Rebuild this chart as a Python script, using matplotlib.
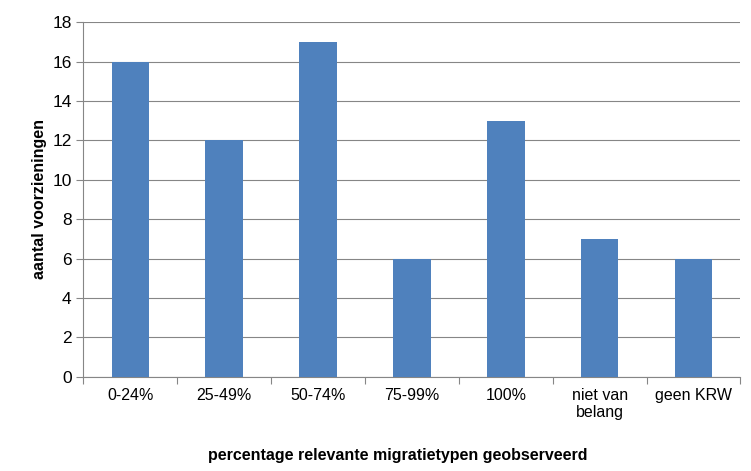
import matplotlib.pyplot as plt

categories = ['0-24%', '25-49%', '50-74%', '75-99%', '100%', 'niet van\nbelang', 'geen KRW']
values = [16, 12, 17, 6, 13, 7, 6]

plt.rcParams['font.family'] = ['Liberation Sans', 'DejaVu Sans']
fig = plt.figure(figsize=(7.51, 4.71), dpi=100)
ax = fig.add_axes([0.111, 0.2, 0.875, 0.753])

x = range(len(categories))
ax.bar(x, values, width=0.4, color='#4f81bd', zorder=3)
ax.set_xlim(-0.5, len(categories) - 0.5)
ax.set_ylim(0, 18)
ax.set_yticks(range(0, 19, 2))
ax.yaxis.grid(True, color='#868686', linewidth=0.8, zorder=0)
ax.set_xticks([i - 0.5 for i in range(len(categories) + 1)], minor=False)
ax.set_xticklabels([])
ax.set_xticks(list(x), minor=True)
ax.set_xticklabels(categories, minor=True, fontsize=11.5, va='top')
ax.tick_params(axis='x', which='minor', length=0, pad=8)
ax.tick_params(axis='x', which='major', length=5, color='#868686')
ax.tick_params(axis='y', labelsize=12.5, length=5, color='#868686')
for s in ['top', 'right']:
    ax.spines[s].set_visible(False)
ax.spines['left'].set_color('#868686')
ax.spines['bottom'].set_color('#868686')
ax.set_ylabel('aantal voorzieningen', fontsize=11.5, fontweight='bold')
fig.text(0.53, 0.018, 'percentage relevante migratietypen geobserveerd',
         fontsize=11.5, fontweight='bold', ha='center', va='bottom')

fig.savefig('out.png')
